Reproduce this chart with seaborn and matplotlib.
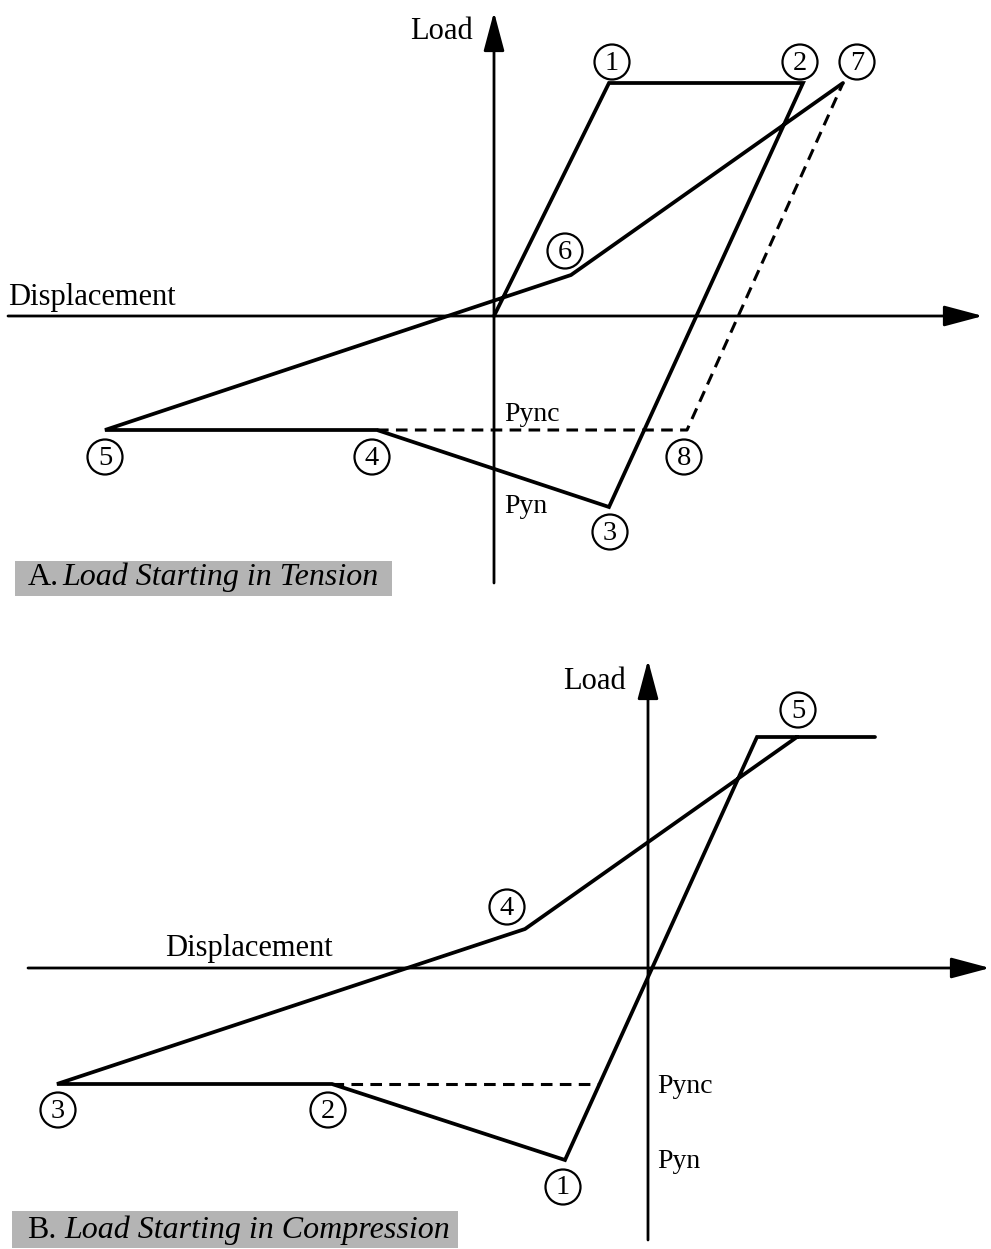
import matplotlib
matplotlib.use("Agg")
import matplotlib.pyplot as plt
import seaborn as sns
import pandas as pd
from matplotlib.patches import Circle, Rectangle

sns.set_theme(style="white")
plt.rcParams['font.family'] = ['Liberation Serif', 'DejaVu Serif']
plt.rcParams['text.color'] = 'black'

# ---- Panel A: load starting in tension (sheet units, y grows downward) ----
a_path_x = [494, 609, 803, 609, 377, 105, 571, 843]
a_path_y = [316, 83, 83, 507, 430, 430, 275, 83]
a_dash_x = [377, 687, 843]
a_dash_y = [430, 430, 83]
a_marks = ["1", "2", "7", "6", "5", "4", "8", "3"]
a_mark_x = [612, 800, 857, 565, 105, 372, 684, 610]
a_mark_y = [62, 62, 62, 251, 457, 457, 457, 532]

# ---- Panel B: load starting in compression ----
b_path_x = [875, 757, 565, 332, 57, 525, 797]
b_path_y = [737, 737, 1160, 1084, 1084, 929, 737]
b_dash_x = [332, 598]
b_dash_y = [1084, 1084]
b_marks = ["5", "4", "3", "2", "1"]
b_mark_x = [798, 507, 58, 328, 563]
b_mark_y = [710, 907, 1110, 1110, 1187]

W, H = 991, 1249
fig = plt.figure(figsize=(W / 100, H / 100), dpi=100)
ax = fig.add_axes([0, 0, 1, 1])
ax.set_xlim(0, W)
ax.set_ylim(H, 0)
ax.axis("off")

line_kw = dict(color="black", lw=2.7, sort=False, estimator=None,
               solid_joinstyle="miter", legend=False)


def draw_path(xs, ys, dashed=False):
    df = pd.DataFrame({"x": xs, "y": ys})
    if dashed:
        sns.lineplot(data=df, x="x", y="y", ax=ax, color="black", lw=2.2,
                     sort=False, estimator=None, dashes=False,
                     linestyle=(0, (3.8, 2.4)), legend=False)
    else:
        sns.lineplot(data=df, x="x", y="y", ax=ax, **line_kw)


def axis_arrow(x0, y0, x1, y1):
    ax.annotate("", xy=(x1, y1), xytext=(x0, y0),
                arrowprops=dict(arrowstyle="-|>,head_length=1.2,head_width=0.32",
                                mutation_scale=20, lw=2.0, color="black",
                                shrinkA=0, shrinkB=0))


def circled(labels, xs, ys):
    for t, x, y in zip(labels, xs, ys):
        ax.add_patch(Circle((x, y), 17.5, fc="white", ec="black", lw=1.6, zorder=4))
        ax.text(x, y + 1, t, ha="center", va="center", fontsize=20.5,
                color="black", zorder=5)


def caption(x0, y0, x1, y1, tag, title, tag_x, title_x, base_y):
    ax.add_patch(Rectangle((x0, y0), x1 - x0, y1 - y0, fc="#b4b4b4", ec="none", zorder=1))
    ax.text(tag_x, base_y, tag, fontsize=23, va="baseline", ha="left",
            color="black", zorder=2)
    ax.text(title_x, base_y, title, fontsize=23, style="italic", va="baseline",
            ha="left", color="black", zorder=2)


def label(x, y, s, size=22, ha="left", va="center"):
    ax.text(x, y, s, ha=ha, va=va, fontsize=size, color="black")


# Panel A
axis_arrow(8, 316, 983, 316)
axis_arrow(494, 583, 494, 12)
draw_path(a_path_x, a_path_y)
draw_path(a_dash_x, a_dash_y, dashed=True)
circled(a_marks, a_mark_x, a_mark_y)
label(473, 31, "Load", ha="right")
label(8, 297, "Displacement")
label(504, 421, "Pync", size=20, va="baseline")
label(504, 513, "Pyn", size=20, va="baseline")
caption(15, 561, 392, 596, "A.", "Load Starting in Tension", 28, 62, 585)

# Panel B
axis_arrow(28, 968, 990, 968)
axis_arrow(648, 1240, 648, 660)
draw_path(b_path_x, b_path_y)
draw_path(b_dash_x, b_dash_y, dashed=True)
circled(b_marks, b_mark_x, b_mark_y)
label(626, 681, "Load", ha="right")
label(165, 948, "Displacement")
label(657, 1093, "Pync", size=20, va="baseline")
label(657, 1168, "Pyn", size=20, va="baseline")
caption(12, 1211, 458, 1248, "B.", "Load Starting in Compression", 27, 64, 1238)

fig.savefig("out.png", dpi=100, facecolor="white")
